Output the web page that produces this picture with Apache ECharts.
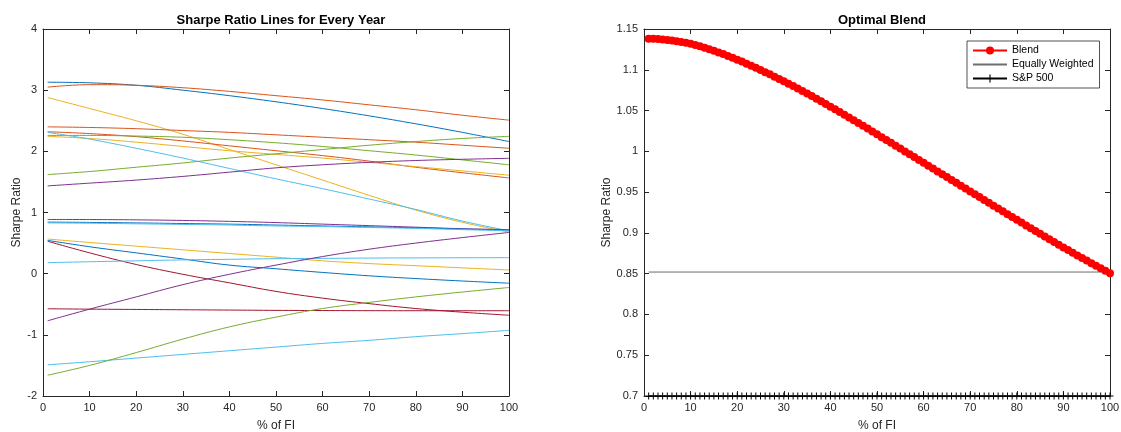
<!DOCTYPE html>
<html>
<head>
<meta charset="utf-8">
<script src="https://cdn.jsdelivr.net/npm/echarts@6/dist/echarts.min.js"></script>
<style>
html,body{margin:0;padding:0;background:#fff;}
#chart{width:1121px;height:432px;}
</style>
</head>
<body>
<div id="chart"></div>
<script>
// ---- Left chart: Sharpe ratio lines for every year (x = % of FI) ----
const yearX = [1, 10, 20, 30, 40, 50, 60, 70, 80, 90, 100];
const yr01 = [3.13, 3.12, 3.08, 3.00, 2.91, 2.81, 2.70, 2.58, 2.45, 2.31, 2.16];
const yr02 = [3.05, 3.09, 3.08, 3.04, 2.98, 2.91, 2.84, 2.76, 2.68, 2.59, 2.51];
const yr03 = [2.88, 2.70, 2.50, 2.28, 2.03, 1.78, 1.53, 1.28, 1.04, 0.84, 0.68];
const yr04 = [2.40, 2.39, 2.37, 2.34, 2.31, 2.27, 2.23, 2.19, 2.15, 2.10, 2.05];
const yr05 = [2.32, 2.29, 2.24, 2.17, 2.09, 2.01, 1.93, 1.84, 1.74, 1.65, 1.565];
const yr06 = [2.26, 2.26, 2.25, 2.23, 2.19, 2.14, 2.08, 2.01, 1.94, 1.86, 1.78];
const yr07 = [2.245, 2.21, 2.15, 2.08, 2.01, 1.95, 1.89, 1.82, 1.75, 1.68, 1.61];
const yr08 = [2.31, 2.20, 2.05, 1.89, 1.72, 1.55, 1.39, 1.22, 1.05, 0.86, 0.70];
const yr09 = [1.62, 1.67, 1.74, 1.81, 1.89, 1.96, 2.03, 2.10, 2.16, 2.21, 2.245];
const yr10 = [1.435, 1.48, 1.53, 1.59, 1.66, 1.73, 1.78, 1.82, 1.85, 1.87, 1.886];
const yr11 = [0.886, 0.885, 0.88, 0.87, 0.855, 0.835, 0.81, 0.785, 0.76, 0.735, 0.72];
const yr12 = [0.843, 0.838, 0.83, 0.82, 0.81, 0.795, 0.78, 0.765, 0.75, 0.73, 0.712];
const yr13 = [0.83, 0.825, 0.815, 0.805, 0.795, 0.78, 0.77, 0.755, 0.74, 0.72, 0.70];
const yr14 = [0.566, 0.51, 0.45, 0.39, 0.33, 0.27, 0.21, 0.165, 0.13, 0.095, 0.06];
const yr15 = [0.544, 0.44, 0.34, 0.24, 0.14, 0.08, 0.02, -0.035, -0.08, -0.12, -0.156];
const yr16 = [0.53, 0.34, 0.15, -0.01, -0.15, -0.29, -0.40, -0.49, -0.57, -0.63, -0.68];
const yr17 = [0.18, 0.195, 0.21, 0.225, 0.235, 0.245, 0.25, 0.255, 0.258, 0.26, 0.262];
const yr18 = [-0.77, -0.58, -0.38, -0.18, -0.01, 0.14, 0.28, 0.40, 0.50, 0.59, 0.674];
const yr19 = [-0.574, -0.58, -0.585, -0.59, -0.595, -0.60, -0.603, -0.605, -0.606, -0.606, -0.606];
const yr20 = [-1.49, -1.44, -1.38, -1.32, -1.26, -1.20, -1.14, -1.09, -1.03, -0.98, -0.926];
const yr21 = [-1.66, -1.50, -1.29, -1.07, -0.87, -0.71, -0.57, -0.47, -0.38, -0.30, -0.226];
const yearLines = [yr01, yr02, yr03, yr04, yr05, yr06, yr07, yr08, yr09, yr10, yr11,
                   yr12, yr13, yr14, yr15, yr16, yr17, yr18, yr19, yr20, yr21];
const yearColors = ['#0072BD', '#D95319', '#EDB120', '#D95319', '#D95319', '#77AC30', '#EDB120',
                    '#4DBEEE', '#77AC30', '#7E2F8E', '#7E2F8E', '#0072BD', '#4DBEEE', '#EDB120',
                    '#0072BD', '#A2142F', '#4DBEEE', '#7E2F8E', '#A2142F', '#4DBEEE', '#77AC30'];
const leftYTicks = [-2, -1, 0, 1, 2, 3, 4];

// ---- Right chart: optimal blend ----
const pctFI = [1,2,3,4,5,6,7,8,9,10,11,12,13,14,15,16,17,18,19,20,21,22,23,24,25,26,27,28,29,30,
  31,32,33,34,35,36,37,38,39,40,41,42,43,44,45,46,47,48,49,50,51,52,53,54,55,56,57,58,59,60,
  61,62,63,64,65,66,67,68,69,70,71,72,73,74,75,76,77,78,79,80,81,82,83,84,85,86,87,88,89,90,
  91,92,93,94,95,96,97,98,99,100];
const blendSharpe = [1.1380,1.1379,1.1376,1.1372,1.1366,1.1359,1.1351,1.1341,1.1330,1.1318,
  1.1303,1.1287,1.1270,1.1252,1.1233,1.1213,1.1192,1.1170,1.1147,1.1124,
  1.1100,1.1075,1.1050,1.1024,1.0998,1.0971,1.0944,1.0916,1.0888,1.0859,
  1.0830,1.0800,1.0770,1.0739,1.0708,1.0677,1.0645,1.0613,1.0581,1.0548,
  1.0515,1.0482,1.0449,1.0415,1.0381,1.0347,1.0313,1.0279,1.0244,1.0209,
  1.0174,1.0139,1.0104,1.0069,1.0034,0.9999,0.9964,0.9929,0.9894,0.9859,
  0.9824,0.9789,0.9754,0.9719,0.9684,0.9649,0.9614,0.9579,0.9544,0.9509,
  0.9474,0.9439,0.9404,0.9369,0.9334,0.9299,0.9264,0.9229,0.9195,0.9160,
  0.9126,0.9092,0.9058,0.9024,0.8990,0.8956,0.8922,0.8888,0.8855,0.8822,
  0.8789,0.8756,0.8724,0.8692,0.8660,0.8628,0.8597,0.8566,0.8535,0.8505];
const equalX = [1, 100];
const equalSharpe = [0.852, 0.852];
const sp500Sharpe = 0.70;
const legendNames = ['Blend', 'Equally Weighted', 'S&P 500'];

const FONT = '"Liberation Sans", Arial, Helvetica, sans-serif';
const AX = '#262626';

function xAxes(grid) {
  const base = {
    gridIndex: grid, type: 'value', min: 0, max: 100, interval: 10,
    axisLine: { onZero: false, lineStyle: { color: AX, width: 1 } },
    axisTick: { inside: true, length: 5, lineStyle: { color: AX } },
    splitLine: { show: false }
  };
  return [
    Object.assign({}, base, {
      position: 'bottom',
      axisLabel: { fontSize: 11, color: AX, margin: 6, fontFamily: FONT },
      name: '% of FI', nameLocation: 'middle', nameGap: 24,
      nameTextStyle: { fontSize: 12, color: AX, fontFamily: FONT }
    }),
    Object.assign({}, base, { position: 'top', axisLabel: { show: false } })
  ];
}
function yAxes(grid, min, max, interval, gap, fmt) {
  const base = {
    gridIndex: grid, type: 'value', min: min, max: max, interval: interval,
    axisLine: { onZero: false, lineStyle: { color: AX, width: 1 } },
    axisTick: { inside: true, length: 5, lineStyle: { color: AX } },
    splitLine: { show: false }
  };
  return [
    Object.assign({}, base, {
      position: 'left',
      axisLabel: { fontSize: 11, color: AX, margin: 6, fontFamily: FONT, formatter: fmt },
      name: 'Sharpe Ratio', nameLocation: 'middle', nameGap: gap, nameRotate: 90,
      nameTextStyle: { fontSize: 12, color: AX, fontFamily: FONT }
    }),
    Object.assign({}, base, { position: 'right', axisLabel: { show: false } })
  ];
}

const PLUS = 'path://M-0.7,-5 L0.7,-5 L0.7,-0.7 L5,-0.7 L5,0.7 L0.7,0.7 L0.7,5 L-0.7,5 L-0.7,0.7 L-5,0.7 L-5,-0.7 L-0.7,-0.7 Z';

const series = [];
yearLines.forEach(function (vals, i) {
  series.push({
    name: 'Year ' + (i + 1), type: 'line', xAxisIndex: 0, yAxisIndex: 0,
    data: yearX.map(function (x, j) { return [x, vals[j]]; }),
    symbol: 'none', smooth: 0.4, silent: true,
    lineStyle: { color: yearColors[i], width: 1 },
    itemStyle: { color: yearColors[i] }
  });
});
series.push({
  name: 'Equally Weighted', type: 'line', xAxisIndex: 2, yAxisIndex: 2,
  data: equalX.map(function (x, j) { return [x, equalSharpe[j]]; }),
  symbol: 'none', lineStyle: { color: '#6e6e6e', width: 1 }, itemStyle: { color: '#6e6e6e' }, z: 3
});
series.push({
  name: 'S&P 500', type: 'line', xAxisIndex: 2, yAxisIndex: 2,
  data: pctFI.map(function (x) { return [x, sp500Sharpe]; }),
  symbol: PLUS, symbolSize: 7, clip: false,
  lineStyle: { color: '#000', width: 1 }, itemStyle: { color: '#000' }, z: 4
});
series.push({
  name: 'Blend', type: 'line', xAxisIndex: 2, yAxisIndex: 2,
  data: pctFI.map(function (x, j) { return [x, blendSharpe[j]]; }),
  symbol: 'circle', symbolSize: 8, clip: false,
  lineStyle: { color: '#ff0000', width: 2 }, itemStyle: { color: '#ff0000' }, z: 5
});

const option = {
  backgroundColor: '#fff',
  animation: false,
  textStyle: { fontFamily: FONT },
  title: [
    { text: 'Sharpe Ratio Lines for Every Year', left: 276, top: 9, textAlign: 'center',
      textStyle: { fontSize: 13, fontWeight: 'bold', color: '#000', fontFamily: FONT } },
    { text: 'Optimal Blend', left: 877, top: 9, textAlign: 'center',
      textStyle: { fontSize: 13, fontWeight: 'bold', color: '#000', fontFamily: FONT } }
  ],
  legend: {
    data: [
      { name: legendNames[0] },
      { name: legendNames[1], itemStyle: { color: 'rgba(0,0,0,0)', borderWidth: 0, opacity: 0 } },
      { name: legendNames[2] }
    ],
    orient: 'vertical', left: 967, top: 41,
    itemWidth: 34, itemHeight: 10, itemGap: 3, padding: [4, 6, 4, 5],
    backgroundColor: '#fff', borderColor: AX, borderWidth: 0.8, borderRadius: 0,
    selectedMode: false,
    textStyle: { fontSize: 10.5, color: '#000', fontFamily: FONT }
  },
  grid: [
    { left: 43, top: 29, width: 466, height: 367, outerBoundsMode: 'none', containLabel: false },
    { left: 644, top: 29, width: 466, height: 367, outerBoundsMode: 'none', containLabel: false }
  ],
  xAxis: xAxes(0).concat(xAxes(1)),
  yAxis: yAxes(0, leftYTicks[0], leftYTicks[leftYTicks.length - 1], 1, 20, function (v) { return String(v); })
    .concat(yAxes(1, 0.7, 1.15, 0.05, 30, function (v) { return String(+v.toFixed(2)); })),
  series: series
};

const chart = echarts.init(document.getElementById('chart'), null, { renderer: 'canvas' });
chart.setOption(option);
</script>
</body>
</html>
